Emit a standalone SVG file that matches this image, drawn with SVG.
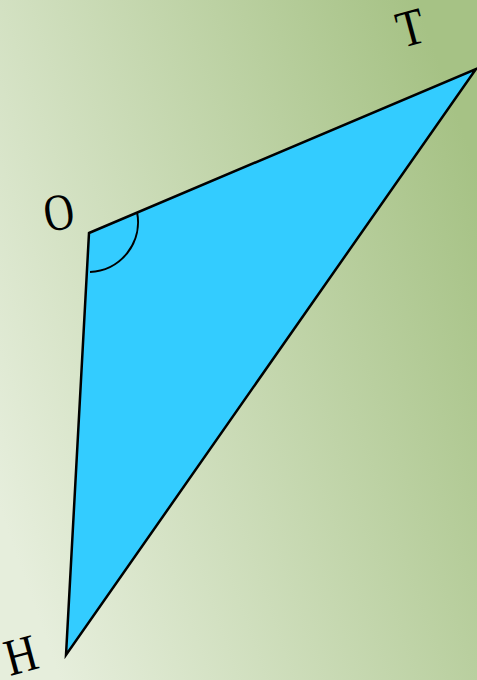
<svg xmlns="http://www.w3.org/2000/svg" width="477" height="680" viewBox="0 0 477 680">
<defs>
<linearGradient id="bg" x1="0" y1="0.75" x2="1" y2="0.25">
<stop offset="0" stop-color="#e6eedc"/>
<stop offset="1" stop-color="#a6c285"/>
</linearGradient>
<style>
.lbl{font-family:"Liberation Serif","Times New Roman",serif;font-size:52px;fill:#000}
</style>
</defs>
<rect x="0" y="0" width="477" height="680" fill="url(#bg)"/>
<g id="triangle">
<polygon points="89,233 476,69 66,655" fill="#33ccff" stroke="#000" stroke-width="2.5" stroke-linejoin="miter"/>
<path d="M137,212 A50,50 0 0 1 90,272" fill="none" stroke="#000" stroke-width="2"/>
</g>
<g id="O"><text class="lbl" transform="translate(47,232) rotate(-10) scale(0.8,1)">O</text></g>
<g id="T"><text class="lbl" transform="translate(402,48) rotate(-15) scale(0.85,1)">T</text></g>
<g id="H"><text class="lbl" transform="translate(10,676) rotate(-15) scale(0.85,1)">H</text></g>
</svg>
